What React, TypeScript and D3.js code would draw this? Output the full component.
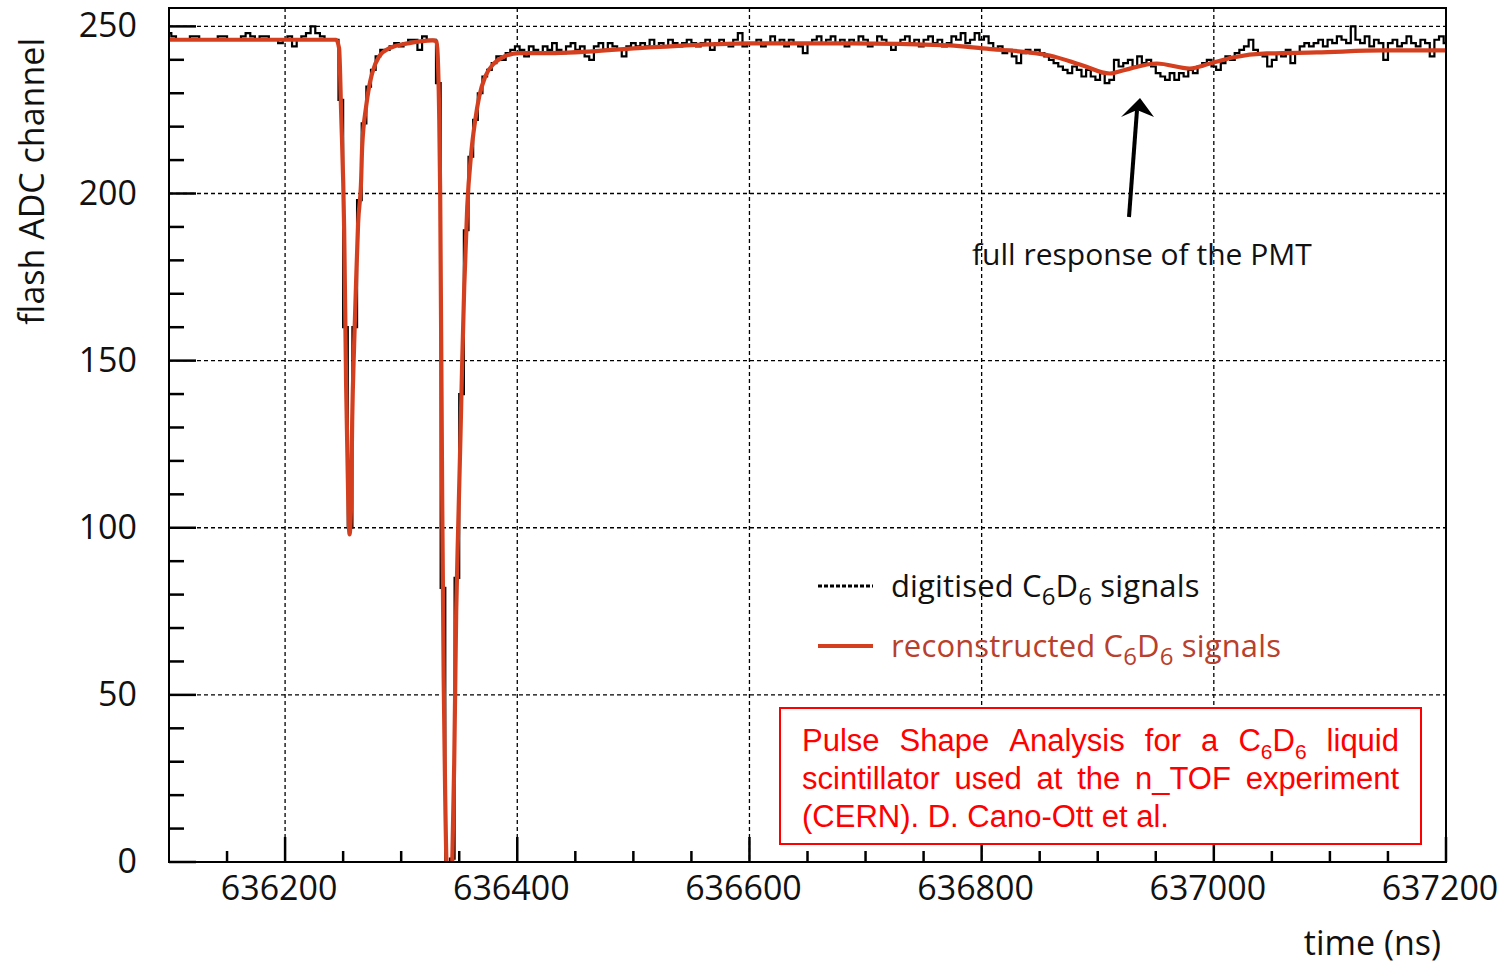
import React, { useMemo } from 'react';
import * as d3 from 'd3';

// ---- axis ticks ----
const xTickLabels = [636200, 636400, 636600, 636800, 637000, 637200];
const yTickLabels = [0, 50, 100, 150, 200, 250];

// ---- reconstructed signal (red) : time (ns), ADC channel ----
const recoTime = [
  636100, 636244, 636246.5, 636248.3, 636250.9, 636252.6, 636254.3, 636255.5, 636256.9, 636257.8,
  636259.5, 636261.2, 636262.9, 636265.5, 636266.4, 636269.8, 636272.4, 636275, 636281, 636290,
  636307, 636327, 636330.5, 636331.5, 636332.8, 636333.6, 636335.3, 636336.6, 636337.9, 636339.2,
  636341.4, 636343.5, 636344.0, 636345.7, 636347.4, 636349.1, 636350.9, 636352.6, 636354.3, 636356.9,
  636360.3, 636363.8, 636367.2, 636372.4, 636380.2, 636388.8, 636401.7, 636427.6, 636513.8, 636600,
  636686.2, 636772.4, 636800.9, 636858.6, 636887.1, 636910.3, 636921.6, 636950.9, 636979.3, 636996.6,
  637016.4, 637045.7, 637088.8, 637145.7, 637200,
];
const recoADC = [
  246, 246, 243.5, 224, 189, 142, 110, 98, 108, 132,
  155, 174, 191, 204, 214, 226, 232, 236, 241, 243.5,
  245, 245.8, 245.5, 241, 222, 200, 110, 55, 20, -2,
  -8, -4, 0, 30, 75, 100, 125, 150, 172, 196,
  212, 222, 229, 235, 239, 241, 242, 242, 243.7, 244.9,
  244.9, 244.3, 243.4, 241.3, 238.3, 235.9, 236.8, 238.9, 237.4, 238.9,
  240.7, 241.9, 242.2, 242.8, 242.8,
];

// ---- digitised signal (black) : flash ADC samples ----
const digitisedStart = 636100; // ns
const digitisedStep = 4; // ns per sample
const digitisedADC = [
  248, 247, 246, 246, 246, 247, 247, 246, 246, 246, 246, 247, 247, 246, 246, 246, 247, 248, 247, 246,
  247, 247, 246, 246, 245, 246, 247, 244, 246, 247, 248, 250, 248, 247, 246, 246,
  246, 228, 160, 100, 160, 198, 221, 232, 237, 241, 243, 243, 244, 245, 244, 245, 246, 246, 243, 247,
  246, 246,
  233, 82, 0, 1, 85, 140, 189, 211, 222, 230, 235, 237, 239, 241, 240, 242, 243, 244,
  243, 241, 244, 243, 242, 244, 243, 245, 243, 242, 244, 245, 243, 244, 241, 240, 244, 245, 243, 245,
  244, 243, 241, 244, 245,
  244, 245, 244, 246, 244, 245, 244, 246, 245, 244, 245, 246, 245, 244, 245, 246, 243, 245, 246, 245,
  244, 246, 248, 244, 245,
  245, 246, 244, 245, 247, 245, 246, 244, 246, 245, 244, 242, 245, 246, 247, 245, 246, 247, 245, 246,
  244, 246, 245, 247, 246,
  244, 245, 247, 246, 245, 243, 245, 246, 247, 245, 246, 244, 246, 247, 245, 246, 244, 245, 247, 246,
  248, 245, 246, 248, 246,
  247, 245, 243, 244, 242, 243, 241, 239, 242, 243, 242, 243, 242, 241, 240, 239, 238, 237, 236, 238,
  237, 235, 237, 235, 234,
  236, 233, 234, 240, 238, 239, 240, 238, 241, 239, 240, 238, 236, 235, 234, 236, 234, 236, 235, 237,
  236, 238, 239, 240, 238,
  237, 239, 241, 240, 242, 243, 244, 246, 243, 242, 241, 238, 240, 242, 241, 243, 239, 242, 244, 245,
  244, 245, 246, 244, 246,
  245, 247, 246, 245, 250, 246, 245, 247, 244, 246, 245, 240, 245, 246, 244, 245, 247, 245, 244, 246,
  245, 241, 246, 247, 245,
];

// ---- texts ----
const boxLines = [
  { words: ['Pulse', 'Shape', 'Analysis', 'for', 'a', 'C{6}D{6}', 'liquid'], justify: true },
  { words: ['scintillator', 'used', 'at', 'the', 'n_TOF', 'experiment'], justify: true },
  { words: ['(CERN).', 'D.', 'Cano-Ott', 'et', 'al.'], justify: false },
];

const W = 1509;
const H = 968;
const L = 169;
const R = 1446;
const T = 8;
const B = 862;

const AXIS_FONT = '"Open Sans", "DejaVu Sans", sans-serif';
const BOX_FONT = '"Liberation Sans", Arial, sans-serif';
const RED = '#d4401f';

function parseWord(w: string) {
  const segs: { t: string; sub: boolean }[] = [];
  const re = /\{(\d+)\}/g;
  let last = 0;
  let m;
  while ((m = re.exec(w)) !== null) {
    if (m.index > last) segs.push({ t: w.slice(last, m.index), sub: false });
    segs.push({ t: m[1], sub: true });
    last = m.index + m[0].length;
  }
  if (last < w.length) segs.push({ t: w.slice(last), sub: false });
  return segs;
}

export default function App() {
  const x = d3.scaleLinear().domain([636100, 637200]).range([L, R]);
  const y = d3.scaleLinear().domain([0, 255.5]).range([B, T]);

  const recoPts: [number, number][] = recoTime.map((t, i) => [t, recoADC[i]]);
  const digPts: [number, number][] = digitisedADC.map((v, i) => [digitisedStart + i * digitisedStep, v]);

  const recoPath =
    d3.line<[number, number]>().x(d => x(d[0])).y(d => y(d[1])).curve(d3.curveMonotoneX)(recoPts) || '';
  const digPath =
    d3.line<[number, number]>().x(d => x(d[0])).y(d => y(d[1])).curve(d3.curveStep)(digPts) || '';

  const xMinor = d3.range(636150, 637200, 50).filter(v => v % 200 !== 0);
  const yMinor = d3.range(0, 256, 10).filter(v => v % 50 !== 0);

  const ctx = useMemo(() => document.createElement('canvas').getContext('2d'), []);
  const measure = (t: string, size: number) => {
    if (!ctx) return t.length * size * 0.5;
    ctx.font = `${size}px ${BOX_FONT}`;
    return ctx.measureText(t).width;
  };

  const BOX_FS = 31;
  const SUB_FS = 21;
  const boxX0 = 802;
  const boxX1 = 1399;
  const baselines = [751, 789, 827];
  const spaceW = measure(' ', BOX_FS);

  const boxTexts = boxLines.map((line, li) => {
    const words = line.words.map(w => {
      const segs = parseWord(w);
      const width = segs.reduce((s, g) => s + measure(g.t, g.sub ? SUB_FS : BOX_FS), 0);
      return { segs, width };
    });
    const total = words.reduce((s, w) => s + w.width, 0);
    const gap = line.justify ? (boxX1 - boxX0 - total) / (words.length - 1) : spaceW;
    let pos = boxX0;
    return words.map((w, wi) => {
      const px = pos;
      pos += w.width + gap;
      let subOn = false;
      return (
        <text key={`b${li}-${wi}`} x={px} y={baselines[li]} fontFamily={BOX_FONT} fontSize={BOX_FS} fill="#ff0000">
          {w.segs.map((g, gi) => {
            let dy = 0;
            if (g.sub && !subOn) dy = 8;
            if (!g.sub && subOn) dy = -8;
            subOn = g.sub;
            return (
              <tspan key={gi} dy={dy} fontSize={g.sub ? SUB_FS : BOX_FS}>
                {g.t}
              </tspan>
            );
          })}
        </text>
      );
    });
  });

  const legendText = (label: string, yb: number, fill: string) => (
    <text x={891} y={yb} fontFamily={AXIS_FONT} fontSize={31} fill={fill} letterSpacing={0.15}>
      {label}
      <tspan fontSize={24} dy={8}>6</tspan>
      <tspan dy={-8}>D</tspan>
      <tspan fontSize={24} dy={8}>6</tspan>
      <tspan dy={-8}>{' signals'}</tspan>
    </text>
  );

  return (
    <svg width={W} height={H} style={{ position: 'absolute', left: 0, top: 0, background: '#fff' }}>
      <defs>
        <clipPath id="plotClip">
          <rect x={L} y={T} width={R - L} height={B - T} />
        </clipPath>
      </defs>
      <rect x={0} y={0} width={W} height={H} fill="#fff" />

      {/* grid */}
      <g stroke="#000" strokeWidth={1.3} strokeDasharray="4,3">
        {yTickLabels
          .filter(v => v > 0)
          .map(v => (
            <line key={`gy${v}`} x1={L} x2={R} y1={y(v)} y2={y(v)} />
          ))}
        {xTickLabels
          .filter(v => v < 637200)
          .map(v => (
            <line key={`gx${v}`} x1={x(v)} x2={x(v)} y1={T} y2={B} />
          ))}
      </g>

      {/* ticks */}
      <g stroke="#000" strokeWidth={2.5}>
        {yTickLabels.map(v => (
          <line key={`yt${v}`} x1={L} x2={L + 27} y1={y(v)} y2={y(v)} />
        ))}
        {yMinor.map(v => (
          <line key={`ym${v}`} x1={L} x2={L + 15} y1={y(v)} y2={y(v)} />
        ))}
        {xTickLabels.map(v => (
          <line key={`xt${v}`} x1={x(v)} x2={x(v)} y1={B} y2={B - 25} />
        ))}
        {xMinor.map(v => (
          <line key={`xm${v}`} x1={x(v)} x2={x(v)} y1={B} y2={B - 11} />
        ))}
      </g>

      {/* data */}
      <g clipPath="url(#plotClip)">
        <path d={digPath} fill="none" stroke="#000" strokeWidth={2.2} />
        <path d={recoPath} fill="none" stroke={RED} strokeWidth={4.2} strokeLinejoin="round" />
      </g>

      {/* frame */}
      <rect x={L} y={T} width={R - L} height={B - T} fill="none" stroke="#000" strokeWidth={2} />

      {/* tick labels */}
      <g fontFamily={AXIS_FONT} fontSize={34} fill="#111">
        {yTickLabels.map(v => (
          <text key={`yl${v}`} x={137} y={y(v) + 11} textAnchor="end">
            {v}
          </text>
        ))}
        {xTickLabels.map(v => (
          <text key={`xl${v}`} x={x(v) - 6} y={900} textAnchor="middle">
            {v}
          </text>
        ))}
      </g>

      {/* axis titles */}
      <text
        transform="translate(44,38) rotate(-90)"
        textAnchor="end"
        fontFamily={AXIS_FONT}
        fontSize={34}
        fill="#111"
      >
        flash ADC channel
      </text>
      <text x={1441} y={955} textAnchor="end" fontFamily={AXIS_FONT} fontSize={34} fill="#111">
        time (ns)
      </text>

      {/* annotation */}
      <text x={972} y={265} fontFamily={AXIS_FONT} fontSize={30} fill="#111">
        full response of the PMT
      </text>
      <line x1={1129} y1={217} x2={1137} y2={110} stroke="#000" strokeWidth={4} />
      <polygon points="1140,98 1121,117 1137,110 1154,117" fill="#000" />

      {/* legend */}
      <line x1={818} x2={873} y1={586} y2={586} stroke="#000" strokeWidth={3} strokeDasharray="4,2" />
      {legendText('digitised C', 597, '#111')}
      <line x1={818} x2={873} y1={646} y2={646} stroke={RED} strokeWidth={4} />
      {legendText('reconstructed C', 657, '#b8402c')}

      {/* red info box */}
      <rect x={780} y={708} width={641} height={136} fill="#fff" stroke="#ff0000" strokeWidth={2} />
      {boxTexts}
    </svg>
  );
}
